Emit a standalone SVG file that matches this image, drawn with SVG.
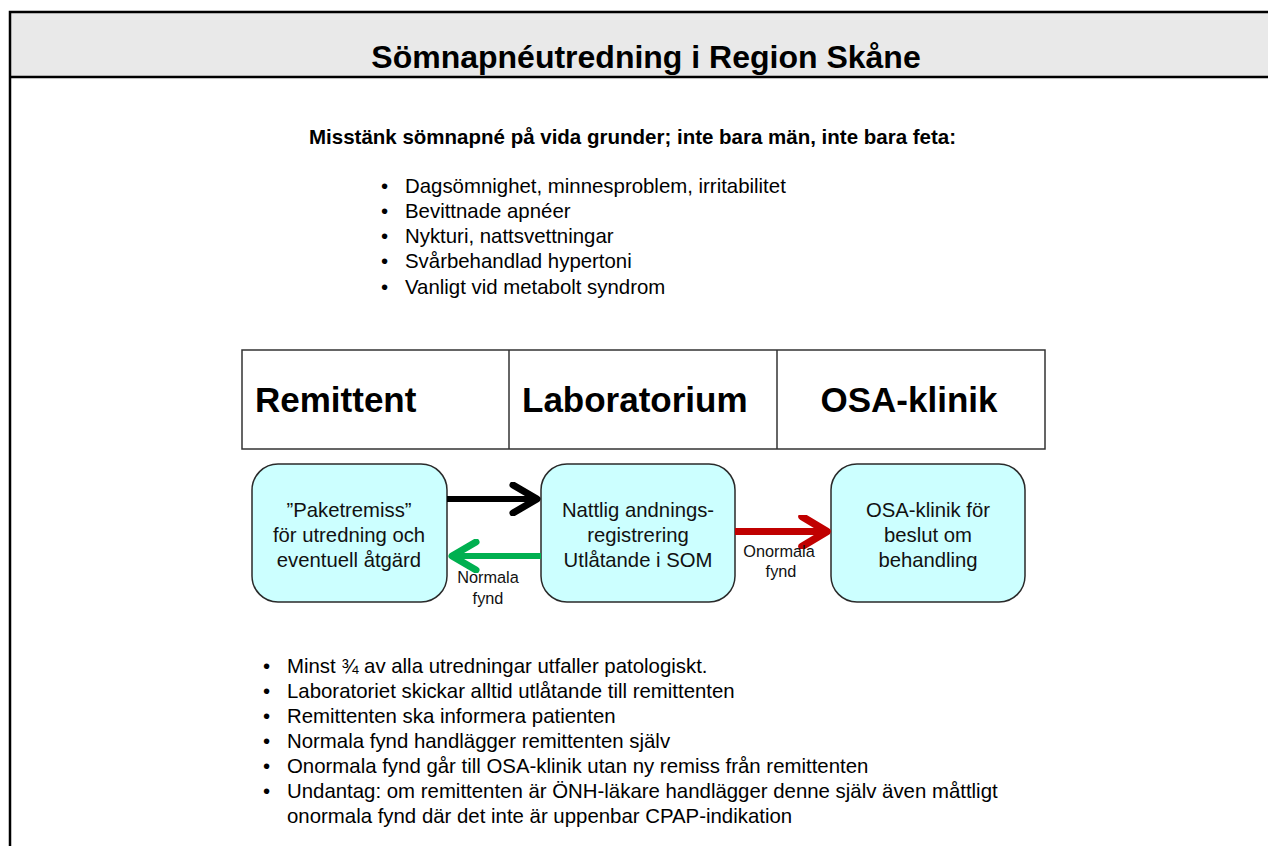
<svg xmlns="http://www.w3.org/2000/svg" width="1268" height="846" viewBox="0 0 1268 846">
  <style>
    text { font-family: "Liberation Sans", Arial, sans-serif; fill: #000; }
    .title { font-size: 32px; font-weight: bold; text-anchor: middle; }
    .lead { font-size: 20.5px; font-weight: bold; }
    .bul { font-size: 20.4px; }
    .lane { font-size: 35px; font-weight: bold; }
    .box { fill: #ccffff; stroke: #2a2a2a; stroke-width: 1.5; }
    .boxtxt { font-size: 20.3px; text-anchor: middle; fill: #111; }
    .lbl { font-size: 16.3px; text-anchor: middle; fill: #111; }
  </style>
  <defs>
    <!-- open chevron arrowheads, sized in user units -->
    <marker id="headBlack" viewBox="0 0 34 34" refX="29" refY="17" markerWidth="34" markerHeight="34" markerUnits="userSpaceOnUse" orient="auto">
      <path d="M5,3 L29,17 L5,31" fill="none" stroke="#000" stroke-width="7" stroke-linecap="round" stroke-linejoin="round"/>
    </marker>
    <marker id="headGreen" viewBox="0 0 34 34" refX="29" refY="17" markerWidth="34" markerHeight="34" markerUnits="userSpaceOnUse" orient="auto">
      <path d="M5,3 L29,17 L5,31" fill="none" stroke="#00b050" stroke-width="7" stroke-linecap="round" stroke-linejoin="round"/>
    </marker>
    <marker id="headRed" viewBox="0 0 34 34" refX="29" refY="17" markerWidth="34" markerHeight="34" markerUnits="userSpaceOnUse" orient="auto">
      <path d="M4,2 L29,17 L4,32" fill="none" stroke="#c00000" stroke-width="7.5" stroke-linecap="round" stroke-linejoin="round"/>
    </marker>
  </defs>

  <rect width="1268" height="846" fill="#fff"/>

  <!-- page frame with grey title band -->
  <g id="frame">
    <rect x="10" y="12" width="1270" height="65" fill="#e9e9e9"/>
    <path d="M1268,12 H10 V846 M10,77 H1268" fill="none" stroke="#000" stroke-width="2.5"/>
    <text class="title" x="646" y="68">Sömnapnéutredning i Region Skåne</text>
  </g>

  <!-- symptoms that should raise suspicion -->
  <g id="suspicion">
    <text class="lead" x="309" y="144">Misstänk sömnapné på vida grunder; inte bara män, inte bara feta:</text>
    <g class="bul">
      <text x="381" y="193">•</text><text x="405" y="193">Dagsömnighet, minnesproblem, irritabilitet</text>
      <text x="381" y="218">•</text><text x="405" y="218">Bevittnade apnéer</text>
      <text x="381" y="243">•</text><text x="405" y="243">Nykturi,  nattsvettningar</text>
      <text x="381" y="268">•</text><text x="405" y="268">Svårbehandlad hypertoni</text>
      <text x="381" y="294">•</text><text x="405" y="294">Vanligt vid metabolt syndrom</text>
    </g>
  </g>

  <!-- swimlane headings -->
  <g id="lanes">
    <rect x="242" y="350" width="803" height="99" fill="#fff" stroke="#333" stroke-width="1.5"/>
    <line x1="509" y1="350" x2="509" y2="449" stroke="#333" stroke-width="1.5"/>
    <line x1="777" y1="350" x2="777" y2="449" stroke="#333" stroke-width="1.5"/>
    <text class="lane" x="255" y="412">Remittent</text>
    <text class="lane" x="522" y="412">Laboratorium</text>
    <text class="lane" x="909" y="412" text-anchor="middle">OSA-klinik</text>
  </g>

  <g id="node-remittent">
    <rect class="box" x="252" y="464" width="195" height="138" rx="26"/>
    <text class="boxtxt" x="349" y="517">”Paketremiss”</text>
    <text class="boxtxt" x="349" y="542">för utredning och</text>
    <text class="boxtxt" x="349" y="567">eventuell åtgärd</text>
  </g>

  <g id="node-lab">
    <rect class="box" x="541" y="464" width="194" height="138" rx="26"/>
    <text class="boxtxt" x="638" y="517">Nattlig andnings-</text>
    <text class="boxtxt" x="638" y="542">registrering</text>
    <text class="boxtxt" x="638" y="567">Utlåtande i SOM</text>
  </g>

  <g id="node-osa">
    <rect class="box" x="831" y="464" width="194" height="138" rx="26"/>
    <text class="boxtxt" x="928" y="517">OSA-klinik för</text>
    <text class="boxtxt" x="928" y="542">beslut om</text>
    <text class="boxtxt" x="928" y="567">behandling</text>
  </g>

  <!-- connectors between the nodes -->
  <g id="connectors" fill="none" stroke-width="6">
    <line x1="447" y1="499" x2="537" y2="499" stroke="#000" marker-end="url(#headBlack)"/>
    <line x1="541" y1="556" x2="452" y2="556" stroke="#00b050" marker-end="url(#headGreen)"/>
    <line x1="735" y1="531.5" x2="827" y2="531.5" stroke="#c00000" stroke-width="7" marker-end="url(#headRed)"/>
    <text class="lbl" x="488" y="583">Normala</text>
    <text class="lbl" x="488" y="604">fynd</text>
    <text class="lbl" x="779" y="557">Onormala</text>
    <text class="lbl" x="781" y="577">fynd</text>
  </g>

  <!-- notes on how results are handled -->
  <g id="notes" class="bul">
    <text x="263" y="673">•</text><text x="287" y="673">Minst ¾ av alla utredningar utfaller patologiskt.</text>
    <text x="263" y="698">•</text><text x="287" y="698">Laboratoriet skickar alltid utlåtande till remittenten</text>
    <text x="263" y="723">•</text><text x="287" y="723">Remittenten ska informera patienten</text>
    <text x="263" y="748">•</text><text x="287" y="748">Normala fynd handlägger remittenten själv</text>
    <text x="263" y="773">•</text><text x="287" y="773">Onormala fynd går till OSA-klinik utan ny remiss från remittenten</text>
    <text x="263" y="798">•</text><text x="287" y="798">Undantag: om remittenten är ÖNH-läkare handlägger denne själv även måttligt</text>
    <text x="287" y="823">onormala fynd där det inte är uppenbar CPAP-indikation</text>
  </g>
</svg>
